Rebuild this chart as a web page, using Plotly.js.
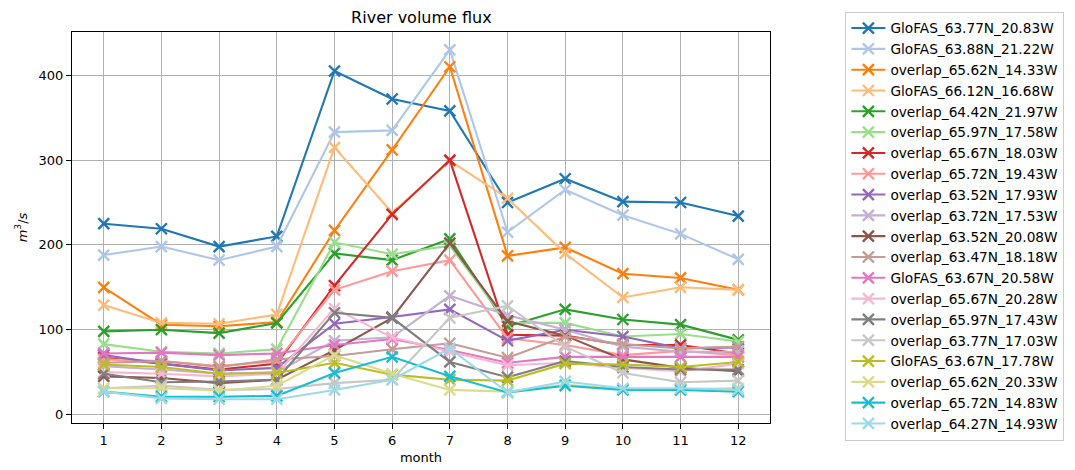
<!DOCTYPE html>
<html>
<head>
<meta charset="utf-8">
<script src="https://cdn.plot.ly/plotly-3.0.1.min.js"></script>
<style>html,body{margin:0;padding:0;background:#fff;}#chart{width:1075px;height:470px;}</style>
</head>
<body>
<div id="chart"></div>
<script>
const months = [1,2,3,4,5,6,7,8,9,10,11,12];

const names = [
  "GloFAS_63.77N_20.83W",
  "GloFAS_63.88N_21.22W",
  "overlap_65.62N_14.33W",
  "GloFAS_66.12N_16.68W",
  "overlap_64.42N_21.97W",
  "overlap_65.97N_17.58W",
  "overlap_65.67N_18.03W",
  "overlap_65.72N_19.43W",
  "overlap_63.52N_17.93W",
  "overlap_63.72N_17.53W",
  "overlap_63.52N_20.08W",
  "overlap_63.47N_18.18W",
  "GloFAS_63.67N_20.58W",
  "overlap_65.67N_20.28W",
  "overlap_65.97N_17.43W",
  "overlap_63.77N_17.03W",
  "GloFAS_63.67N_17.78W",
  "overlap_65.62N_20.33W",
  "overlap_65.72N_14.83W",
  "overlap_64.27N_14.93W"
];

const s01 = [225, 219, 198, 210, 405, 372, 358, 250, 278, 251, 250, 234];
const s02 = [188, 198, 182, 198, 333, 335, 430, 215, 265, 235, 213, 183];
const s03 = [150, 106, 104, 109, 217, 312, 410, 187, 197, 166, 161, 147];
const s04 = [129, 108, 107, 118, 315, 238, 299, 255, 190, 138, 150, 147];
const s05 = [98, 100, 96, 108, 190, 182, 207, 104, 124, 112, 106, 88];
const s06 = [83, 74, 72, 77, 203, 189, 199, 108, 108, 92, 95, 86];
const s07 = [67, 60, 53, 60, 152, 236, 300, 94, 93, 82, 82, 72];
const s08 = [65, 63, 57, 63, 147, 169, 182, 90, 82, 70, 75, 70];
const s09 = [70, 60, 52, 55, 107, 115, 124, 87, 100, 92, 78, 79];
const s10 = [57, 53, 48, 50, 87, 91, 140, 117, 100, 80, 74, 74];
const s11 = [45, 43, 37, 41, 76, 114, 202, 110, 93, 65, 55, 51];
const s12 = [61, 63, 56, 65, 69, 77, 84, 67, 92, 83, 78, 80];
const s13 = [72, 73, 70, 72, 82, 89, 76, 61, 68, 68, 68, 68];
const s14 = [50, 48, 45, 48, 125, 91, 74, 58, 61, 55, 51, 60];
const s15 = [48, 38, 39, 41, 120, 114, 62, 44, 63, 56, 53, 53];
const s16 = [31, 34, 29, 30, 37, 41, 114, 128, 80, 49, 38, 40];
const s17 = [59, 56, 48, 49, 61, 47, 41, 40, 60, 59, 56, 62];
const s18 = [31, 31, 28, 34, 70, 48, 29, 27, 35, 30, 30, 31];
const s19 = [27, 21, 21, 22, 49, 68, 45, 26, 34, 29, 29, 27];
const s20 = [27, 19, 18, 18, 29, 41, 78, 26, 39, 31, 31, 29];

const series = [s01,s02,s03,s04,s05,s06,s07,s08,s09,s10,s11,s12,s13,s14,s15,s16,s17,s18,s19,s20];

const colors = ["#1f77b4","#aec7e8","#ff7f0e","#ffbb78","#2ca02c","#98df8a","#d62728","#ff9896",
                "#9467bd","#c5b0d5","#8c564b","#c49c94","#e377c2","#f7b6d2","#7f7f7f","#c7c7c7",
                "#bcbd22","#dbdb8d","#17becf","#9edae5"];

const traces = series.map((ys, i) => ({
  x: months,
  y: ys,
  name: names[i],
  type: "scatter",
  mode: "lines+markers",
  line: {color: colors[i], width: 2.1},
  marker: {symbol: "x-thin", size: 11, color: colors[i], line: {color: colors[i], width: 2.4}}
}));

const font = "DejaVu Sans, sans-serif";

const layout = {
  width: 1075, height: 470,
  paper_bgcolor: "#ffffff", plot_bgcolor: "#ffffff",
  margin: {l: 72, r: 305, t: 32, b: 47, pad: 0, autoexpand: false},
  font: {family: font, size: 13, color: "#000"},
  title: {text: "River volume flux", font: {family: font, size: 16, color: "#000"}, x: 0.392, xanchor: "center", y: 0.962, yanchor: "middle"},
  showlegend: true,
  legend: {
    x: 1.108, xanchor: "left", y: 1.052, yanchor: "top",
    bordercolor: "#cccccc", borderwidth: 1, bgcolor: "#ffffff",
    font: {family: font, size: 13.7, color: "#000"},
    itemwidth: 34,
    maxheight: 1
  },
  xaxis: {
    range: [0.45, 12.55],
    tickmode: "array", tickvals: months, ticktext: months.map(String),
    showgrid: true, gridcolor: "#b0b0b0", gridwidth: 1,
    showline: true, linecolor: "#000", linewidth: 1, mirror: true,
    ticks: "outside", ticklen: 5, tickcolor: "#000",
    zeroline: false,
    tickfont: {family: font, size: 13},
    title: {text: "month", font: {family: font, size: 13}, standoff: 6}
  },
  yaxis: {
    range: [-10, 451],
    tickmode: "array", tickvals: [0,100,200,300,400],
    showgrid: true, gridcolor: "#b0b0b0", gridwidth: 1,
    showline: true, linecolor: "#000", linewidth: 1, mirror: true,
    ticks: "outside", ticklen: 5, tickcolor: "#000",
    zeroline: false,
    tickfont: {family: font, size: 13},
    title: {text: "<i>m</i><sup>3</sup>/<i>s</i>", font: {family: font, size: 13}, standoff: 8}
  }
};

Plotly.newPlot("chart", traces, layout, {displayModeBar: false, staticPlot: true});
</script>
</body>
</html>
